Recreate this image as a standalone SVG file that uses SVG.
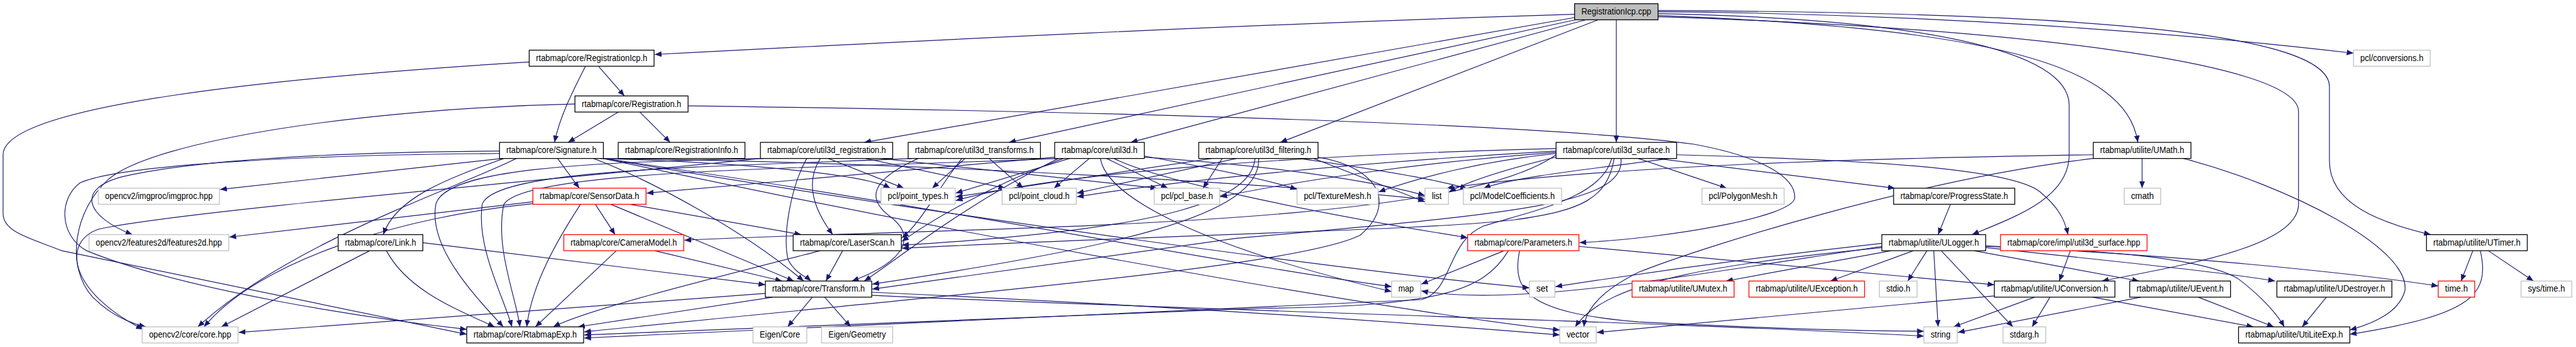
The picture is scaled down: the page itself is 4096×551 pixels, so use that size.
<svg xmlns="http://www.w3.org/2000/svg" width="4096" height="551" viewBox="0 0 4096 551">
<style>
.e{fill:none;stroke:#191970;stroke-width:1.2;marker-end:url(#a)}
.n rect{fill:#fff;stroke:#000;stroke-width:1.3}
.n.g rect{stroke:#bfbfbf}
.n.r rect{stroke:#ff0000}
.n.root rect{fill:#bfbfbf}
text{font-family:"Liberation Sans",Arial,Helvetica,sans-serif;font-size:14px;fill:#000;text-anchor:middle}
</style>
<defs>
<marker id="a" markerUnits="userSpaceOnUse" markerWidth="12" markerHeight="10" refX="11" refY="4.5" orient="auto"><path d="M0,0 L11,4.5 L0,9 Z" fill="#191970"/></marker>
</defs>
<rect width="4096" height="551" fill="#fff"/>
<g transform="scale(0.983)">
<g id="connectors">
<path class="e" d="M2547,23 C2000,40 1500,65 1059,88"/>
<path class="e" d="M2549,28 L1398,230"/>
<path class="e" d="M2553,31 L1632,230"/>
<path class="e" d="M2565,32 L1829,230"/>
<path class="e" d="M2585,32 L2071,230"/>
<path class="e" d="M2614.5,32 L2614.5,230"/>
<path class="e" d="M2682,19 C3100,22 3500,50 3807,86"/>
<path class="e" d="M2682,25 C3200,45 3440,100 3458,230"/>
<path class="e" d="M2682,22 C3100,30 3347,80 3347,170 L3347,250 C3347,320 3260,350 3190,379"/>
<path class="e" d="M2682,27 C3250,45 3718,100 3718,180 L3718,330 C3718,400 3520,430 3400,454"/>
<path class="e" d="M2682,17 C3350,20 3768,50 3768,140 L3768,260 C3768,330 3850,360 3932,379"/>
<path class="e" d="M968,107 L1010,155"/>
<path class="e" d="M947,107 C925,150 905,190 897,230"/>
<path class="e" d="M856,100 C450,125 5,170 5,250 L5,345 C5,375 50,385 100,405 L755,540"/>
<path class="e" d="M1000,181 L919,230"/>
<path class="e" d="M1035,181 L1084,230"/>
<path class="e" d="M1113,171 C1800,180 2500,200 2740,233 C2860,255 2905,290 2903,320 C2900,350 2700,385 2555,392"/>
<path class="e" d="M930,168 C600,175 250,225 175,290 C120,340 105,430 150,480 C180,510 210,522 236,528"/>
<path class="e" d="M812,256 L356,306"/>
<path class="e" d="M808,244 C500,246 300,262 200,285 C120,305 140,350 214,379"/>
<path class="e" d="M808,248 C500,250 200,265 130,295 C95,320 95,380 140,405 C300,470 600,515 755,532"/>
<path class="e" d="M902,256 L937,304"/>
<path class="e" d="M960,256 C1050,290 1200,370 1300,454"/>
<path class="e" d="M815,256 C720,290 640,320 620,379"/>
<path class="e" d="M970,256 C1200,262 1400,282 1440,304"/>
<path class="e" d="M976,256 C1500,262 2100,300 2305,322"/>
<path class="e" d="M976,256 C1500,330 2000,430 2251,463"/>
<path class="e" d="M976,256 C1500,345 2200,440 2474,465"/>
<path class="e" d="M976,256 C1600,390 2300,510 2523,533"/>
<path class="e" d="M835,256 C750,300 470,390 320,528"/>
<path class="e" d="M862,326 L371,383"/>
<path class="e" d="M862,329 C650,350 420,420 330,528"/>
<path class="e" d="M963,330 L995,379"/>
<path class="e" d="M1019,330 L1296,379"/>
<path class="e" d="M988,330 L1284,454"/>
<path class="e" d="M939,330 C900,390 860,460 852,528"/>
<path class="e" d="M997,405 L866,528"/>
<path class="e" d="M1059,405 L1265,454"/>
<path class="e" d="M598,405 L358,528"/>
<path class="e" d="M684,392 L1238,460"/>
<path class="e" d="M625,405 C660,470 740,500 800,528"/>
<path class="e" d="M1363,405 L1336,454"/>
<path class="e" d="M1327,405 C1150,450 950,500 895,528"/>
<path class="e" d="M1238,474 L386,537"/>
<path class="e" d="M1250,480 L935,528"/>
<path class="e" d="M1314,480 L1274,528"/>
<path class="e" d="M1334,480 L1376,528"/>
<path class="e" d="M1410,472 C1800,490 2200,515 2523,541"/>
<path class="e" d="M1410,477 C1900,500 2700,520 3112,543"/>
<path class="e" d="M1327,256 C1305,290 1310,330 1347,379"/>
<path class="e" d="M1340,256 L1462,304"/>
<path class="e" d="M1400,256 L1626,304"/>
<path class="e" d="M1425,256 L1872,304"/>
<path class="e" d="M1305,256 C1280,300 1265,380 1275,420 C1285,440 1305,448 1312,454"/>
<path class="e" d="M1230,256 C900,290 300,340 160,370 C100,390 110,470 231,532"/>
<path class="e" d="M1235,256 C950,262 720,272 705,330 C692,400 770,480 814,528"/>
<path class="e" d="M1561,256 L1508,304"/>
<path class="e" d="M1556,256 C1520,300 1490,360 1459,384"/>
<path class="e" d="M1600,256 L1655,304"/>
<path class="e" d="M1485,256 C1410,290 1400,320 1440,350 C1480,380 1470,420 1378,454"/>
<path class="e" d="M1475,256 C1150,270 800,272 780,330 C770,400 815,480 828,528"/>
<path class="e" d="M1762,256 L1705,304"/>
<path class="e" d="M1780,256 C1790,320 1950,400 2251,471"/>
<path class="e" d="M1790,256 L1889,304"/>
<path class="e" d="M1802,256 C1870,290 2100,340 2374,384"/>
<path class="e" d="M1851,252 C1950,270 2050,290 2098,306"/>
<path class="e" d="M1706,254 L1046,312"/>
<path class="e" d="M1730,256 L1546,312"/>
<path class="e" d="M1720,256 C1600,300 1500,360 1459,390"/>
<path class="e" d="M1712,256 C1560,330 1450,420 1398,454"/>
<path class="e" d="M1851,254 C2100,270 2250,300 2305,316"/>
<path class="e" d="M1712,256 C1350,272 850,272 815,330 C800,400 835,480 841,528"/>
<path class="e" d="M1977,256 L1946,304"/>
<path class="e" d="M2000,256 L1742,312"/>
<path class="e" d="M2030,256 C2025,320 1900,370 1459,396"/>
<path class="e" d="M2036,256 C2040,350 1800,400 1411,459"/>
<path class="e" d="M2102,256 C2200,270 2330,290 2373,305"/>
<path class="e" d="M1960,256 L1546,318"/>
<path class="e" d="M2125,256 L2305,326"/>
<path class="e" d="M2132,254 C2230,270 2260,330 2200,380 C2100,430 1600,470 945,536"/>
<path class="e" d="M2650,256 L2793,304"/>
<path class="e" d="M2680,256 L3065,304"/>
<path class="e" d="M2712,250 C3000,258 3250,270 3300,310 C3330,335 3340,355 3345,379"/>
<path class="e" d="M2517,250 C2350,370 1600,365 1107,388"/>
<path class="e" d="M2611,256 C2600,320 2560,340 2450,355 C2300,372 2000,375 1459,401"/>
<path class="e" d="M2622,256 C2630,330 2450,345 2000,385 L1411,467"/>
<path class="e" d="M2607,256 C2590,320 2480,340 2400,365 C2340,390 2350,470 2300,484 L945,546"/>
<path class="e" d="M2517,248 C2400,260 2300,285 2230,310"/>
<path class="e" d="M2520,253 C2450,270 2380,290 2344,310"/>
<path class="e" d="M2700,256 C2600,270 2450,285 2400,304"/>
<path class="e" d="M2517,246 C2300,262 2100,292 1974,318"/>
<path class="e" d="M2517,244 C2200,262 1900,292 1742,318"/>
<path class="e" d="M2517,240 C2100,250 1700,280 1546,324"/>
<path class="e" d="M2433,405 L2299,459"/>
<path class="e" d="M2458,405 C2445,470 2470,505 2650,520 C2850,530 3000,535 3112,535"/>
<path class="e" d="M2554,398 L3226,460"/>
<path class="e" d="M2440,405 C2400,470 2330,495 2040,498 L945,541"/>
<path class="e" d="M3059,405 L2792,454"/>
<path class="e" d="M3095,405 L2961,454"/>
<path class="e" d="M3117,405 L3086,454"/>
<path class="e" d="M3128,405 L3135,528"/>
<path class="e" d="M3140,405 L3256,528"/>
<path class="e" d="M3193,405 L3460,454"/>
<path class="e" d="M3212,400 C3400,420 3600,440 3680,454"/>
<path class="e" d="M3212,398 C3500,410 3800,440 3944,462"/>
<path class="e" d="M3212,397 C3400,405 3560,415 3620,450 C3660,480 3685,510 3695,528"/>
<path class="e" d="M3044,393 C2800,420 2600,450 2516,463"/>
<path class="e" d="M3044,398 C2700,450 2450,495 2299,470"/>
<path class="e" d="M3044,400 C2800,425 2600,450 2548,528"/>
<path class="e" d="M3291,480 L3160,528"/>
<path class="e" d="M3316,480 L3287,528"/>
<path class="e" d="M3385,480 L3645,528"/>
<path class="e" d="M3226,478 L2583,537"/>
<path class="e" d="M3463,480 L3167,537"/>
<path class="e" d="M3556,480 L3678,528"/>
<path class="e" d="M3763,480 L3724,528"/>
<path class="e" d="M4000,405 L3981,454"/>
<path class="e" d="M4025,405 L4098,454"/>
<path class="e" d="M4012,405 C4030,480 3990,510 3801,540"/>
<path class="e" d="M3349,405 L3331,454"/>
<path class="e" d="M3465,256 L3465,304"/>
<path class="e" d="M3532,256 C3700,300 3900,400 3890,470 C3880,505 3840,522 3801,533"/>
<path class="e" d="M3386,250 C3000,256 2600,268 2340,304"/>
<path class="e" d="M3386,256 C3100,290 2750,400 2650,440 C2590,470 2565,500 2562,528"/>
<path class="e" d="M3155,330 L3135,379"/>
</g>
<g id="n0" class="n root"><rect x="2547" y="6" width="135" height="26"/><text x="2614.5" y="23.5" textLength="113" lengthAdjust="spacingAndGlyphs">RegistrationIcp.cpp</text></g>
<g id="n1" class="n"><rect x="856" y="81" width="202" height="26"/><text x="957" y="98.5" textLength="180" lengthAdjust="spacingAndGlyphs">rtabmap/core/RegistrationIcp.h</text></g>
<g id="n2" class="n g"><rect x="3807" y="81" width="124" height="26"/><text x="3869" y="98.5" textLength="102" lengthAdjust="spacingAndGlyphs">pcl/conversions.h</text></g>
<g id="n3" class="n"><rect x="930" y="155" width="183" height="26"/><text x="1021.5" y="172.5" textLength="161" lengthAdjust="spacingAndGlyphs">rtabmap/core/Registration.h</text></g>
<g id="n4" class="n"><rect x="808" y="230" width="168" height="26"/><text x="892" y="247.5" textLength="146" lengthAdjust="spacingAndGlyphs">rtabmap/core/Signature.h</text></g>
<g id="n5" class="n"><rect x="1000" y="230" width="205" height="26"/><text x="1102.5" y="247.5" textLength="183" lengthAdjust="spacingAndGlyphs">rtabmap/core/RegistrationInfo.h</text></g>
<g id="n6" class="n"><rect x="1230" y="230" width="214" height="26"/><text x="1337" y="247.5" textLength="192" lengthAdjust="spacingAndGlyphs">rtabmap/core/util3d_registration.h</text></g>
<g id="n7" class="n"><rect x="1469" y="230" width="214" height="26"/><text x="1576" y="247.5" textLength="192" lengthAdjust="spacingAndGlyphs">rtabmap/core/util3d_transforms.h</text></g>
<g id="n8" class="n"><rect x="1706" y="230" width="145" height="26"/><text x="1778.5" y="247.5" textLength="123" lengthAdjust="spacingAndGlyphs">rtabmap/core/util3d.h</text></g>
<g id="n9" class="n"><rect x="1939" y="230" width="193" height="26"/><text x="2035.5" y="247.5" textLength="171" lengthAdjust="spacingAndGlyphs">rtabmap/core/util3d_filtering.h</text></g>
<g id="n10" class="n"><rect x="2517" y="230" width="195" height="26"/><text x="2614.5" y="247.5" textLength="173" lengthAdjust="spacingAndGlyphs">rtabmap/core/util3d_surface.h</text></g>
<g id="n11" class="n"><rect x="3386" y="230" width="158" height="26"/><text x="3465" y="247.5" textLength="136" lengthAdjust="spacingAndGlyphs">rtabmap/utilite/UMath.h</text></g>
<g id="n12" class="n g"><rect x="159" y="304" width="196" height="26"/><text x="257" y="321.5" textLength="174" lengthAdjust="spacingAndGlyphs">opencv2/imgproc/imgproc.hpp</text></g>
<g id="n13" class="n r"><rect x="862" y="304" width="183" height="26"/><text x="953.5" y="321.5" textLength="161" lengthAdjust="spacingAndGlyphs">rtabmap/core/SensorData.h</text></g>
<g id="n14" class="n g"><rect x="1425" y="304" width="120" height="26"/><text x="1485" y="321.5" textLength="98" lengthAdjust="spacingAndGlyphs">pcl/point_types.h</text></g>
<g id="n15" class="n g"><rect x="1621" y="304" width="120" height="26"/><text x="1681" y="321.5" textLength="98" lengthAdjust="spacingAndGlyphs">pcl/point_cloud.h</text></g>
<g id="n16" class="n g"><rect x="1867" y="304" width="106" height="26"/><text x="1920" y="321.5" textLength="84" lengthAdjust="spacingAndGlyphs">pcl/pcl_base.h</text></g>
<g id="n17" class="n g"><rect x="2098" y="304" width="131" height="26"/><text x="2163.5" y="321.5" textLength="109" lengthAdjust="spacingAndGlyphs">pcl/TextureMesh.h</text></g>
<g id="n18" class="n g"><rect x="2305" y="304" width="38" height="26"/><text x="2324" y="321.5" textLength="16" lengthAdjust="spacingAndGlyphs">list</text></g>
<g id="n19" class="n g"><rect x="2367" y="304" width="159" height="26"/><text x="2446.5" y="321.5" textLength="137" lengthAdjust="spacingAndGlyphs">pcl/ModelCoefficients.h</text></g>
<g id="n20" class="n g"><rect x="2753" y="304" width="133" height="26"/><text x="2819.5" y="321.5" textLength="111" lengthAdjust="spacingAndGlyphs">pcl/PolygonMesh.h</text></g>
<g id="n21" class="n"><rect x="3063" y="304" width="196" height="26"/><text x="3161" y="321.5" textLength="174" lengthAdjust="spacingAndGlyphs">rtabmap/core/ProgressState.h</text></g>
<g id="n22" class="n g"><rect x="3436" y="304" width="59" height="26"/><text x="3465.5" y="321.5" textLength="37" lengthAdjust="spacingAndGlyphs">cmath</text></g>
<g id="n23" class="n g"><rect x="144" y="379" width="226" height="26"/><text x="257" y="396.5" textLength="204" lengthAdjust="spacingAndGlyphs">opencv2/features2d/features2d.hpp</text></g>
<g id="n24" class="n"><rect x="547" y="379" width="137" height="26"/><text x="615.5" y="396.5" textLength="115" lengthAdjust="spacingAndGlyphs">rtabmap/core/Link.h</text></g>
<g id="n25" class="n r"><rect x="912" y="379" width="194" height="26"/><text x="1009" y="396.5" textLength="172" lengthAdjust="spacingAndGlyphs">rtabmap/core/CameraModel.h</text></g>
<g id="n26" class="n"><rect x="1283" y="379" width="175" height="26"/><text x="1370.5" y="396.5" textLength="153" lengthAdjust="spacingAndGlyphs">rtabmap/core/LaserScan.h</text></g>
<g id="n27" class="n r"><rect x="2374" y="379" width="180" height="26"/><text x="2464" y="396.5" textLength="158" lengthAdjust="spacingAndGlyphs">rtabmap/core/Parameters.h</text></g>
<g id="n28" class="n"><rect x="3044" y="379" width="168" height="26"/><text x="3128" y="396.5" textLength="146" lengthAdjust="spacingAndGlyphs">rtabmap/utilite/ULogger.h</text></g>
<g id="n29" class="n r"><rect x="3236" y="379" width="237" height="26"/><text x="3354.5" y="396.5" textLength="215" lengthAdjust="spacingAndGlyphs">rtabmap/core/impl/util3d_surface.hpp</text></g>
<g id="n30" class="n"><rect x="3925" y="379" width="163" height="26"/><text x="4006.5" y="396.5" textLength="141" lengthAdjust="spacingAndGlyphs">rtabmap/utilite/UTimer.h</text></g>
<g id="n31" class="n"><rect x="1238" y="454" width="172" height="26"/><text x="1324" y="471.5" textLength="150" lengthAdjust="spacingAndGlyphs">rtabmap/core/Transform.h</text></g>
<g id="n32" class="n g"><rect x="2251" y="454" width="47" height="26"/><text x="2274.5" y="471.5" textLength="25" lengthAdjust="spacingAndGlyphs">map</text></g>
<g id="n33" class="n g"><rect x="2474" y="454" width="41" height="26"/><text x="2494.5" y="471.5" textLength="19" lengthAdjust="spacingAndGlyphs">set</text></g>
<g id="n34" class="n r"><rect x="2640" y="454" width="165" height="26"/><text x="2722.5" y="471.5" textLength="143" lengthAdjust="spacingAndGlyphs">rtabmap/utilite/UMutex.h</text></g>
<g id="n35" class="n r"><rect x="2829" y="454" width="187" height="26"/><text x="2922.5" y="471.5" textLength="165" lengthAdjust="spacingAndGlyphs">rtabmap/utilite/UException.h</text></g>
<g id="n36" class="n g"><rect x="3040" y="454" width="61" height="26"/><text x="3070.5" y="471.5" textLength="39" lengthAdjust="spacingAndGlyphs">stdio.h</text></g>
<g id="n37" class="n"><rect x="3226" y="454" width="195" height="26"/><text x="3323.5" y="471.5" textLength="173" lengthAdjust="spacingAndGlyphs">rtabmap/utilite/UConversion.h</text></g>
<g id="n38" class="n"><rect x="3445" y="454" width="163" height="26"/><text x="3526.5" y="471.5" textLength="141" lengthAdjust="spacingAndGlyphs">rtabmap/utilite/UEvent.h</text></g>
<g id="n39" class="n"><rect x="3683" y="454" width="186" height="26"/><text x="3776" y="471.5" textLength="164" lengthAdjust="spacingAndGlyphs">rtabmap/utilite/UDestroyer.h</text></g>
<g id="n40" class="n r"><rect x="3944" y="454" width="59" height="26"/><text x="3973.5" y="471.5" textLength="37" lengthAdjust="spacingAndGlyphs">time.h</text></g>
<g id="n41" class="n g"><rect x="4078" y="454" width="82" height="26"/><text x="4119" y="471.5" textLength="60" lengthAdjust="spacingAndGlyphs">sys/time.h</text></g>
<g id="n42" class="n g"><rect x="230" y="528" width="155" height="26"/><text x="307.5" y="545.5" textLength="133" lengthAdjust="spacingAndGlyphs">opencv2/core/core.hpp</text></g>
<g id="n43" class="n"><rect x="755" y="528" width="189" height="26"/><text x="849.5" y="545.5" textLength="167" lengthAdjust="spacingAndGlyphs">rtabmap/core/RtabmapExp.h</text></g>
<g id="n44" class="n g"><rect x="1218" y="528" width="87" height="26"/><text x="1261.5" y="545.5" textLength="65" lengthAdjust="spacingAndGlyphs">Eigen/Core</text></g>
<g id="n45" class="n g"><rect x="1329" y="528" width="115" height="26"/><text x="1386.5" y="545.5" textLength="93" lengthAdjust="spacingAndGlyphs">Eigen/Geometry</text></g>
<g id="n46" class="n g"><rect x="2523" y="528" width="59" height="26"/><text x="2552.5" y="545.5" textLength="37" lengthAdjust="spacingAndGlyphs">vector</text></g>
<g id="n47" class="n g"><rect x="3112" y="528" width="54" height="26"/><text x="3139" y="545.5" textLength="32" lengthAdjust="spacingAndGlyphs">string</text></g>
<g id="n48" class="n g"><rect x="3240" y="528" width="69" height="26"/><text x="3274.5" y="545.5" textLength="47" lengthAdjust="spacingAndGlyphs">stdarg.h</text></g>
<g id="n49" class="n"><rect x="3621" y="528" width="180" height="26"/><text x="3711" y="545.5" textLength="158" lengthAdjust="spacingAndGlyphs">rtabmap/utilite/UtiLiteExp.h</text></g>
</g>
</svg>
